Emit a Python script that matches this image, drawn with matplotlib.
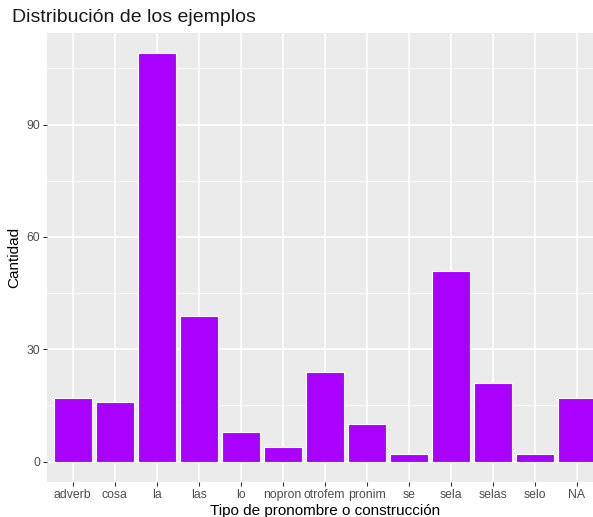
import matplotlib
matplotlib.use("Agg")
import matplotlib.pyplot as plt
import numpy as np

plt.rcParams['font.family'] = ['Liberation Sans', 'DejaVu Sans']

# datos
tipos = ['adverb', 'cosa', 'la', 'las', 'lo', 'nopron', 'otrofem',
         'pronim', 'se', 'sela', 'selas', 'selo', 'NA']
cantidad = [17, 16, 109, 39, 8, 4, 24, 10, 2, 51, 21, 2, 17]
yticks = [0, 30, 60, 90]

fig = plt.figure(figsize=(5.93, 5.17), dpi=100)
ax = fig.add_axes([0.08, 0.0677, 0.935, 0.8683])

x = np.arange(len(tipos))
ax.set_facecolor('#EBEBEB')
ax.bar(x, cantidad, width=0.9, color='#AA00FF', edgecolor='white', linewidth=0.8, zorder=3)

ax.set_xlim(-0.6, len(tipos) - 1 + 0.6)
ax.set_ylim(-5.45, 114.45)
ax.set_xticks(x)
ax.set_xticklabels(tipos)
ax.set_yticks(yticks)
ax.set_yticks([15, 45, 75, 105], minor=True)

ax.grid(True, which='major', color='white', linewidth=1.1, zorder=0)
ax.grid(True, which='minor', axis='y', color='white', linewidth=0.5, zorder=0)
for s in ax.spines.values():
    s.set_visible(False)
ax.tick_params(axis='both', which='major', colors='#333333', labelcolor='#4D4D4D',
               labelsize=8.8, length=3, width=0.8, pad=2)
ax.tick_params(axis='y', which='minor', length=0)

ax.set_xlabel('Tipo de pronombre o construcción', fontsize=11, color='black', labelpad=2)
ax.set_ylabel('Cantidad', fontsize=11, color='black', labelpad=4)
fig.text(0.02, 0.966, 'Distribución de los ejemplos', fontsize=14, va='center', ha='left',
         color='#1A1A1A')

plt.savefig('out.png', dpi=100)
